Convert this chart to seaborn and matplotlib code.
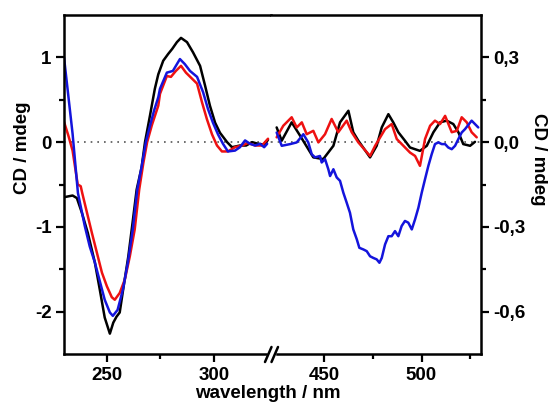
import numpy as np
import pandas as pd
import seaborn as sns
import matplotlib
matplotlib.use('Agg')
import matplotlib.pyplot as plt
from matplotlib.lines import Line2D

# ---- data (UV part, left axis) ----
black_uv_wl = [230, 232, 234, 236, 238.3, 241.1, 244.4, 246.7, 249, 251.4, 253, 254.5, 256, 257.6,
               260, 262, 263.9, 266.2, 267.8, 270.1, 272.4, 274, 276.3, 278.6, 280.5, 282.7, 284.6,
               287.4, 290.2, 293.5, 295.8, 298.1, 300.5, 302.8, 306.1, 308.4, 312.1, 315, 317.8,
               320.6, 323.8, 325.2]
black_uv_cd = [-0.65, -0.64, -0.63, -0.66, -0.83, -1.07, -1.42, -1.74, -2.07, -2.26, -2.13, -2.06,
               -2.01, -1.74, -1.35, -0.95, -0.56, -0.3, 0.0, 0.31, 0.63, 0.80, 0.96, 1.04, 1.10,
               1.18, 1.23, 1.18, 1.06, 0.90, 0.67, 0.43, 0.23, 0.11, 0.0, -0.06, -0.04, -0.04,
               0.0, -0.02, -0.03, 0.03]

blue_uv_wl = [230, 232, 234, 236.5, 237.4, 239.7, 242, 244.4, 246.7, 249, 251.4, 252.8, 255, 257.5,
              259.8, 262.1, 264.2, 266.3, 268.2, 270, 272, 274, 274.8, 278, 280.8, 284.1, 286.4,
              288.8, 292.1, 294.9, 297.2, 299.5, 301.9, 304.2, 306.5, 309.8, 312.1, 314.5, 316.8,
              319.2, 321.5, 323.4, 324.8]
blue_uv_cd = [1.0, 0.55, 0.1, -0.6, -0.71, -0.99, -1.23, -1.42, -1.64, -1.86, -2.01, -2.05, -1.98,
              -1.74, -1.42, -1.03, -0.56, -0.28, 0.0, 0.18, 0.37, 0.53, 0.63, 0.82, 0.84, 0.98,
              0.92, 0.84, 0.77, 0.59, 0.39, 0.23, 0.09, -0.02, -0.11, -0.10, -0.06, 0.02, -0.02,
              -0.04, -0.02, -0.06, -0.02]

red_uv_wl = [230, 232, 234, 236.4, 237.8, 238.5, 240.7, 243, 245.3, 247.7, 250, 252.3, 253.7, 256,
             258.4, 260.7, 263, 265.1, 267, 268.8, 271, 274, 274.8, 278, 279.9, 282.2, 284.6,
             286.9, 289.7, 292.1, 294.4, 296.7, 299.1, 301.4, 303.7, 306.5, 309.8, 313.1, 315.9,
             319.2, 322.4, 325.2]
red_uv_cd = [0.24, 0.08, -0.10, -0.50, -0.52, -0.60, -0.83, -1.07, -1.30, -1.54, -1.70, -1.83,
             -1.86, -1.78, -1.62, -1.35, -1.03, -0.56, -0.25, 0.0, 0.2, 0.43, 0.57, 0.78, 0.77,
             0.84, 0.90, 0.82, 0.75, 0.69, 0.47, 0.27, 0.09, -0.04, -0.11, -0.11, -0.06, -0.04,
             -0.01, -0.04, -0.04, 0.04]

# ---- visible part, right axis ----
black_vis_wl = [425.7, 428.3, 433.4, 437.7, 444.5, 449.6, 454.8, 458.2, 462.5, 465.0, 467.6, 473.6,
                477.0, 479.6, 483.0, 485.5, 488.1, 491.5, 494.1, 499.2, 502.7, 506.1, 509.5, 512.9,
                516.3, 518.9, 521.4, 524.9, 527.4]
black_vis_cd = [0.052, 0.005, 0.07, 0.023, -0.054, -0.06, -0.013, 0.07, 0.111, 0.035, 0.005,
                -0.054, -0.013, 0.052, 0.099, 0.07, 0.035, 0.005, -0.019, -0.031, -0.013, 0.035,
                0.07, 0.076, 0.064, 0.035, -0.007, -0.013, 0.001]

red_vis_wl = [425.7, 429.1, 433.4, 436.0, 438.6, 441.1, 444.5, 447.1, 450.5, 453.9, 457.3, 461.6,
              464.2, 467.6, 473.6, 476.2, 481.3, 484.7, 487.3, 490.7, 494.1, 496.7, 499.2, 501.8,
              504.4, 506.9, 509.5, 512.1, 515.5, 518.1, 520.6, 523.2, 525.7, 528.3]
red_vis_cd = [0.017, 0.058, 0.088, 0.052, 0.07, 0.028, 0.04, -0.001, 0.028, 0.082, 0.035, 0.076,
              0.035, -0.001, -0.049, -0.013, 0.046, 0.064, 0.011, -0.013, -0.037, -0.049, -0.084,
              0.011, 0.058, 0.076, 0.064, 0.093, 0.035, 0.04, 0.088, 0.07, 0.035, 0.017]

blue_vis_wl = [425.7, 428.3, 432.6, 436.0, 439.4, 441.9, 443.7, 445.4, 447.9, 448.8, 450.5, 452.2,
               453.1, 454.8, 456.5, 458.2, 459.9, 461.6, 463.3, 465.0, 466.8, 468.1, 470.2, 471.9,
               473.6, 475.3, 477.0, 478.4, 479.6, 481.3, 483.0, 484.7, 486.4, 488.1, 489.8, 491.5,
               493.2, 495.0, 496.7, 498.4, 500.1, 501.8, 503.5, 505.2, 506.9, 508.6, 510.4, 512.1,
               513.7, 515.5, 517.2, 518.9, 520.6, 522.3, 525.7, 529.1]
blue_vis_cd = [0.034, -0.013, -0.007, -0.001, 0.028, -0.001, -0.043, -0.054, -0.049, -0.072, -0.06,
               -0.096, -0.12, -0.096, -0.125, -0.137, -0.179, -0.214, -0.25, -0.309, -0.344,
               -0.374, -0.38, -0.386, -0.404, -0.41, -0.415, -0.427, -0.41, -0.362, -0.333,
               -0.333, -0.315, -0.333, -0.297, -0.279, -0.285, -0.309, -0.273, -0.232, -0.179,
               -0.131, -0.084, -0.043, -0.007, -0.001, -0.007, -0.007, -0.019, -0.025, -0.013,
               0.011, 0.034, 0.046, 0.076, 0.052]

left_yticks = [-2, -1, 0, 1]
left_ylabels = ['-2', '-1', '0', '1']
right_yticks = [-0.6, -0.3, 0.0, 0.3]
right_ylabels = ['-0,6', '-0,3', '0,0', '0,3']

sns.set_style('ticks')
plt.rcParams['font.family'] = ['Liberation Sans', 'DejaVu Sans']
plt.rcParams['font.weight'] = 'bold'
plt.rcParams['font.size'] = 13.5
for key in ('axes.edgecolor', 'text.color', 'xtick.color', 'ytick.color', 'axes.labelcolor'):
    plt.rcParams[key] = 'black'

W, H = 548, 405
fig = plt.figure(figsize=(W / 100, H / 100), dpi=100)

def fx(px):
    return px / W

def fy(py):
    return 1 - py / H

ax_l = fig.add_axes([fx(64), fy(354), fx(271) - fx(64), fy(15) - fy(354)])
ax_r = fig.add_axes([fx(271), fy(354), fx(481) - fx(271), fy(15) - fy(354)])

lw = 1.8
cols = {'black': '#000000', 'red': '#ee1111', 'blue': '#1414dc'}
sns.lineplot(x=black_uv_wl, y=black_uv_cd, ax=ax_l, color=cols['black'], lw=lw, sort=False)
sns.lineplot(x=red_uv_wl, y=red_uv_cd, ax=ax_l, color=cols['red'], lw=lw, sort=False)
sns.lineplot(x=blue_uv_wl, y=blue_uv_cd, ax=ax_l, color=cols['blue'], lw=lw, sort=False)
sns.lineplot(x=black_vis_wl, y=black_vis_cd, ax=ax_r, color=cols['black'], lw=lw, sort=False)
sns.lineplot(x=red_vis_wl, y=red_vis_cd, ax=ax_r, color=cols['red'], lw=lw, sort=False)
sns.lineplot(x=blue_vis_wl, y=blue_vis_cd, ax=ax_r, color=cols['blue'], lw=lw, sort=False)

for ax in (ax_l, ax_r):
    ax.axhline(0, ls=(0, (1, 3)), color='#555555', lw=1.2, zorder=0)
    for s in ax.spines.values():
        s.set_linewidth(1.8)
        s.set_color('black')
    ax.tick_params(which='major', direction='out', length=6, width=1.6, pad=3, color='black')
    ax.tick_params(which='minor', direction='out', length=3.5, width=1.6, color='black')
    ax.set_xlabel('')
    ax.set_ylabel('')

ax_l.set_xlim(230, 326.6)
ax_l.set_ylim(-2.5, 1.5)
ax_l.set_xticks([250, 300])
ax_l.set_xticklabels(['250', '300'])
ax_l.set_xticks([275], minor=True)
ax_l.set_yticks(left_yticks)
ax_l.set_yticklabels(left_ylabels)
ax_l.set_yticks([-1.5, -0.5, 0.5], minor=True)
ax_l.spines['right'].set_visible(False)
ax_l.spines['bottom'].set_bounds(230, 324.3)

ax_r.set_xlim(422.8, 530.5)
ax_r.set_ylim(-0.75, 0.45)
ax_r.set_xticks([450, 500])
ax_r.set_xticklabels(['450', '500'])
ax_r.set_xticks([475, 525], minor=True)
ax_r.yaxis.tick_right()
ax_r.set_yticks(right_yticks)
ax_r.set_yticklabels(right_ylabels)
ax_r.set_yticks([-0.45, -0.15, 0.15], minor=True)
ax_r.spines['left'].set_visible(False)
ax_r.spines['bottom'].set_bounds(425.9, 530.5)

# break marks on the x axis
for x0 in (265, 271.5):
    fig.add_artist(Line2D([fx(x0), fx(x0 + 6.5)], [fy(362), fy(347)], color='black', lw=1.8))

fig.text(fx(23), fy(148), 'CD / mdeg', rotation=90, ha='center', va='center', fontweight='bold')
fig.text(fx(539), fy(159), 'CD / mdeg', rotation=270, ha='center', va='center', fontweight='bold')
fig.text(fx(268), fy(393), 'wavelength / nm', ha='center', va='center', fontweight='bold')

fig.savefig('out.png', dpi=100)
